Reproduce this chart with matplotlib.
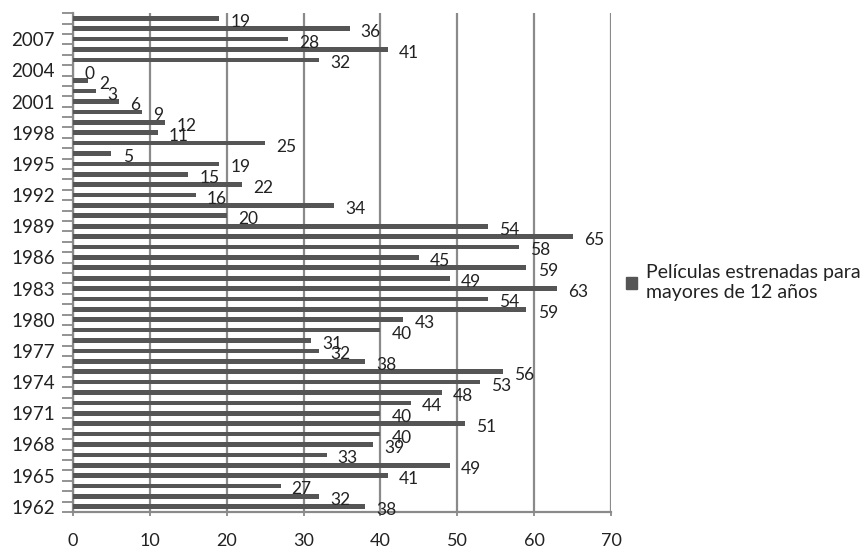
import matplotlib
matplotlib.use("Agg")
import matplotlib.pyplot as plt
from matplotlib.patches import Patch

plt.rcParams['font.family'] = ['Lato', 'DejaVu Sans']

years = list(range(1962, 2010))
peliculas = [38, 32, 27, 41, 49, 33, 39, 40, 51, 40,
             44, 48, 53, 56, 38, 32, 31, 40, 43, 59,
             54, 63, 49, 59, 45, 58, 65, 54, 20, 34,
             16, 22, 15, 19, 5, 25, 11, 12, 9, 6,
             3, 2, 0, 32, 41, 28, 36, 19]
serie = "Películas estrenadas para\nmayores de 12 años"
x_ticks = [0, 10, 20, 30, 40, 50, 60, 70]

bar_color = "#555555"
grid_color = "#8a8a8a"
text_color = "#222222"

fig = plt.figure(figsize=(8.61, 5.49), dpi=100)
ax = fig.add_axes([0.0848, 0.0674, 0.7096 - 0.0848, 0.976 - 0.0674])

pos = list(range(len(years)))
ax.barh(pos, peliculas, height=0.45, color=bar_color, zorder=3)

for p, v in zip(pos, peliculas):
    ax.annotate(str(v), xy=(v, p), xytext=(8, -2.5), textcoords="offset points",
                ha="left", va="center", fontsize=12.5, color=text_color, zorder=4)

ax.set_xlim(0, 70)
ax.set_ylim(-0.5, len(years) - 0.5)
ax.set_xticks(x_ticks)
ax.set_xticklabels([str(t) for t in x_ticks])

label_pos = [p for p in pos if (years[p] - 1962) % 3 == 0]
ax.set_yticks(label_pos)
ax.set_yticklabels([str(years[p]) for p in label_pos])
ax.set_yticks([p - 0.5 for p in pos] + [len(years) - 0.5], minor=True)

ax.tick_params(axis="y", which="major", length=0, pad=13, labelsize=13.5, labelcolor=text_color)
ax.tick_params(axis="y", which="minor", length=8, width=1.3, color=grid_color, direction="out")
ax.tick_params(axis="x", which="major", length=3, width=1.3, color=grid_color, pad=12,
               labelsize=13, labelcolor=text_color)

ax.xaxis.grid(True, color=grid_color, linewidth=1.6, zorder=0)
for s in ("top", "right"):
    ax.spines[s].set_visible(False)
for s in ("left", "bottom"):
    ax.spines[s].set_color(grid_color)
    ax.spines[s].set_linewidth(1.6)

fig.legend(handles=[Patch(facecolor=bar_color, edgecolor=bar_color, label=serie)],
           loc="center left", bbox_to_anchor=(0.718, 0.485), frameon=False,
           fontsize=14, handlelength=0.55, handleheight=0.55, handletextpad=0.5,
           labelcolor=text_color, borderaxespad=0.0)

fig.savefig("out.png", dpi=100)
